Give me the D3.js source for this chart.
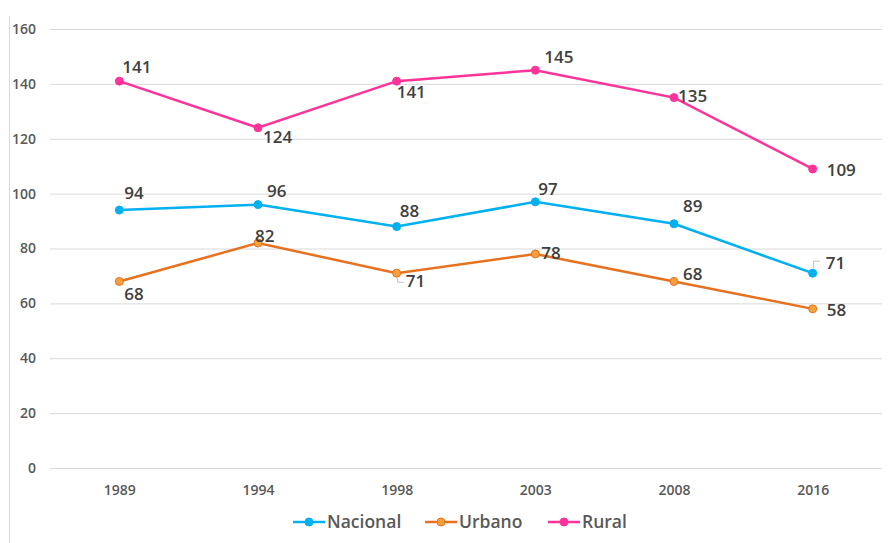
<!DOCTYPE html>
<head>
  <meta charset="utf-8">
  <title>Nacional / Urbano / Rural</title>
  <script src="https://d3js.org/d3.v7.min.js"></script>
  <style>
    body { margin: 0; background: #fff; }
    text { font-family: "Open Sans", "Liberation Sans", sans-serif; fill: #595959; }
    .grid line { stroke: #d9d9d9; stroke-width: 1; }
    .tick text { font-size: 14px; font-weight: 600; }
    .lbl { font-size: 17px; font-weight: 600; fill: #404040; }
    .leg { font-size: 17.5px; font-weight: 600; }
  </style>
</head>
<body>
<div class="container"></div>
<script>
'use strict';
var width = 895, height = 543;

var years = ['1989', '1994', '1998', '2003', '2008', '2016'];
var nacional = [94, 96, 88, 97, 89, 71];
var urbano = [68, 82, 71, 78, 68, 58];
var rural = [141, 124, 141, 145, 135, 109];
var yTicks = [0, 20, 40, 60, 80, 100, 120, 140, 160];

var series = [
  { name: 'Nacional', values: nacional, color: '#00b0f0', fill: '#00b0f0' },
  { name: 'Urbano', values: urbano, color: '#e8711f', fill: '#f7a13c' },
  { name: 'Rural', values: rural, color: '#ff3399', fill: '#ff3399' }
];

// label placement: [dx, dy] offset from the point to the label's start/baseline
var labelPos = {
  Nacional: [[5, -11], [9, -8], [3, -10], [3, -7], [9, -12], [13, -4]],
  Urbano: [[5, 19], [-3, -1], [9, 14], [6, 5], [9, -1], [14, 7]],
  Rural: [[3, -8], [5, 15], [0, 17], [9, -7], [4, 4], [14, 7]]
};

var svg = d3.select('.container').append('svg')
  .attr('width', width).attr('height', height);

var x = d3.scalePoint().domain(years).range([50, 882]).padding(0.5);
var y = d3.scaleLinear().domain([0, 160]).range([468, 29]);

// left border
svg.append('line')
  .attr('x1', 9.5).attr('x2', 9.5).attr('y1', 16).attr('y2', height)
  .attr('stroke', '#d9d9d9');

// gridlines + y labels
var yAxis = svg.append('g').attr('class', 'grid')
  .attr('transform', 'translate(50,0)')
  .call(d3.axisLeft(y).tickValues(yTicks).tickSize(-832).tickPadding(14));
yAxis.select('.domain').remove();

var xAxis = svg.append('g')
  .attr('transform', 'translate(0,468)')
  .call(d3.axisBottom(x).tickSize(0).tickPadding(17));
xAxis.select('.domain').remove();

var line = d3.line()
  .x(function (d, i) { return x(years[i]); })
  .y(function (d) { return y(d); });

// leader lines for the two tucked labels
svg.append('path')
  .attr('d', 'M' + (x('1998') + 1) + ',' + (y(71) + 5) + 'v4h6')
  .attr('fill', 'none').attr('stroke', '#bfbfbf');
svg.append('path')
  .attr('d', 'M' + (x('2016') + 1) + ',' + (y(71) - 5) + 'v-7h6')
  .attr('fill', 'none').attr('stroke', '#bfbfbf');

series.forEach(function (s) {
  svg.append('path')
    .datum(s.values)
    .attr('fill', 'none')
    .attr('stroke', s.color)
    .attr('stroke-width', 2.5)
    .attr('d', line);

  svg.selectAll(null).data(s.values).enter().append('circle')
    .attr('cx', function (d, i) { return x(years[i]); })
    .attr('cy', function (d) { return y(d); })
    .attr('r', 4)
    .attr('fill', s.fill)
    .attr('stroke', s.color)
    .attr('stroke-width', 1);

  svg.selectAll(null).data(s.values).enter().append('text')
    .attr('class', 'lbl')
    .attr('x', function (d, i) { return x(years[i]) + labelPos[s.name][i][0]; })
    .attr('y', function (d, i) { return y(d) + labelPos[s.name][i][1]; })
    .text(function (d) { return d; });
});

// legend
var legX = [293, 425, 548];
var leg = svg.selectAll('g.legend').data(series).enter().append('g')
  .attr('transform', function (d, i) { return 'translate(' + legX[i] + ',522)'; });
leg.append('line')
  .attr('x1', 0).attr('x2', 32)
  .attr('stroke', function (d) { return d.color; })
  .attr('stroke-width', 2.5);
leg.append('circle')
  .attr('cx', 16).attr('r', 4)
  .attr('fill', function (d) { return d.fill; })
  .attr('stroke', function (d) { return d.color; });
leg.append('text')
  .attr('class', 'leg')
  .attr('x', 34).attr('dy', '0.35em')
  .text(function (d) { return d.name; });
</script>
</body>
